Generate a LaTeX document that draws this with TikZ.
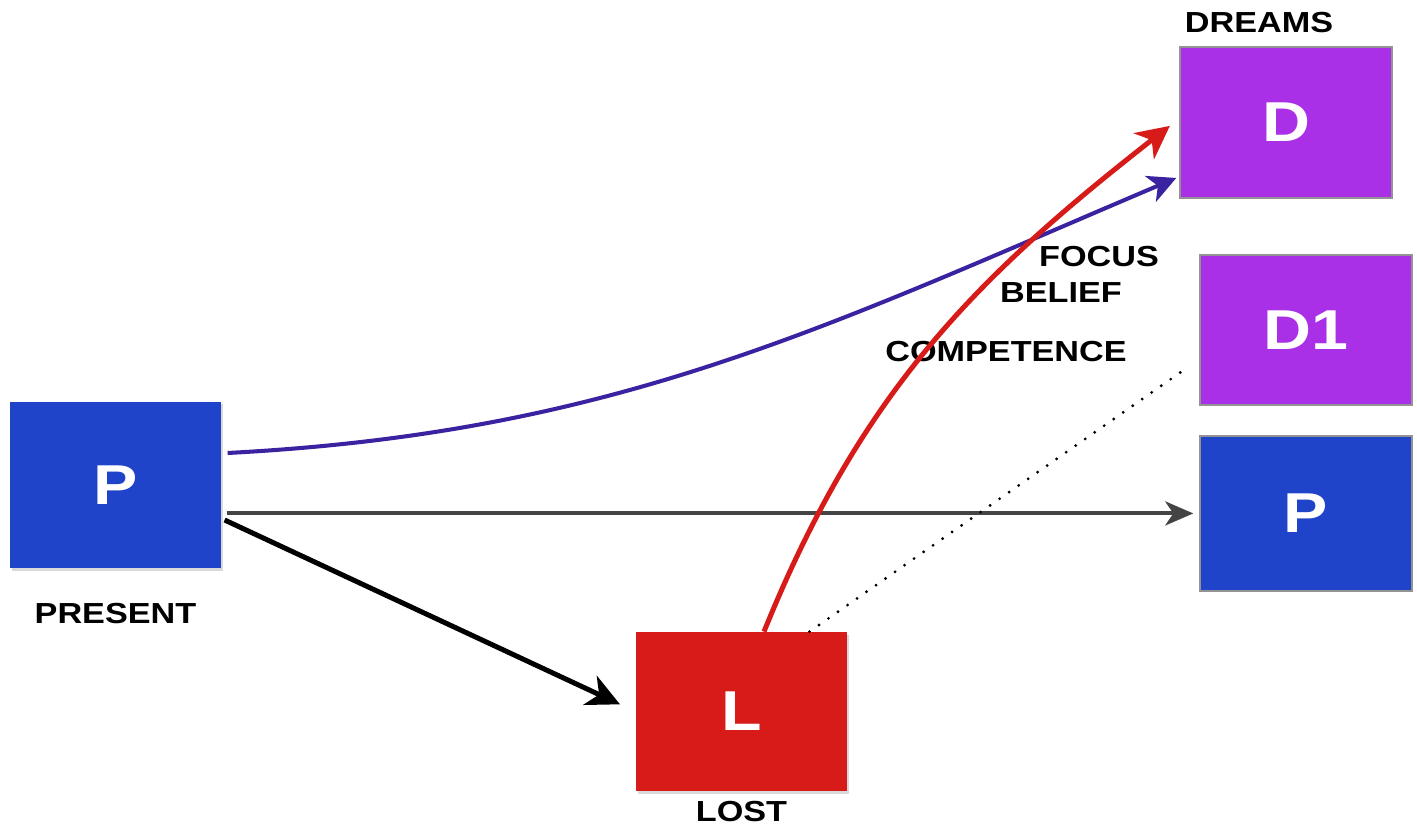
\documentclass[tikz,border=0pt]{standalone}
\usepackage{fontspec}
\setmainfont{Liberation Sans}[FakeStretch=1.18]
\usetikzlibrary{positioning, arrows.meta, shadows}
\definecolor{pblue}{HTML}{1F44C9}
\definecolor{lred}{HTML}{D71B18}
\definecolor{dpurp}{HTML}{A930E6}
\definecolor{fblue}{HTML}{3A22A0}
\definecolor{agray}{HTML}{444444}
\tikzset{box/.style={minimum width=4.23cm, inner sep=0, text=white, font=\bfseries\fontsize{32}{32}\selectfont}}
\tikzset{rimbox/.style={box, draw=gray!85, line width=1.1pt}}
\tikzset{shbox/.style={box, drop shadow={shadow xshift=0.04cm, shadow yshift=-0.05cm, opacity=0.3}}}
\tikzset{lbl/.style={inner sep=0, font=\bfseries\fontsize{16.5}{16.5}\selectfont}}
\tikzset{arr/.style={draw, line width=2.3pt}}
\tikzset{arr2/.style={draw, line width=2.85pt}}

\begin{document}
\begin{tikzpicture}
				\useasboundingbox (0,0) rectangle (28.34,-16.52);
				\node[shbox, fill=pblue, minimum height=3.32cm] (P) at (2.31,-9.70) {P};
				\node[shbox, fill=lred, minimum height=3.18cm] (L) at (14.83,-14.23) {L};
				\node[rimbox, fill=dpurp, minimum height=3.02cm] (D) at (25.72,-2.45) {D};
				\node[rimbox, fill=dpurp, minimum height=3.0cm] (D1) at (26.12,-6.60) {D1};
				\node[rimbox, fill=pblue, minimum height=3.1cm, below=0.58cm of D1] (Q) {P};
				%
				\node[lbl, below=0.7cm of P] (present) {PRESENT};
				\node[lbl, below=0.2cm of L] (lost) {LOST};
				\node[lbl, above=0.25cm of D, xshift=-0.54cm] (dreams) {DREAMS};
				\node[lbl] (focus) at (21.98,-5.14) {FOCUS};
				\node[lbl] (belief) at (21.22,-5.86) {BELIEF};
				\node[lbl] (comp) at (20.12,-7.04) {COMPETENCE};
				%
				\draw[arr, fblue, -{Stealth[length=0.56cm, width=0.56cm, inset=0.16cm]}] ([shift={(0.12,0.64)}]P.east) to[out=3, in=-157] ([shift={(-0.06,0.42)}]D.south west);
				\draw[arr, agray, shorten <=0.1cm, shorten >=0.12cm, -{Stealth[length=0.56cm, width=0.48cm, inset=0.16cm]}] (P.east |- Q.west) -- (Q.west);
				\draw[arr2, black, shorten >=0.34cm, -{Stealth[length=0.66cm, width=0.64cm, inset=0.2cm]}] ([shift={(0.06,-0.7)}]P.east) -- (L.west);
				\draw[arr2, lred, shorten >=0.24cm, -{Stealth[length=0.66cm, width=0.66cm, inset=0.2cm]}] ([xshift=0.45cm]L.north) to[out=68, in=-142] ([yshift=0.08cm]D.west);
				\draw[line width=1.8pt, line cap=round, dash pattern=on 0pt off 6.6pt] ([xshift=1.36cm]L.north) -- ([shift={(-0.28,0.74)}]D1.south west);
			\end{tikzpicture}
\end{document}
